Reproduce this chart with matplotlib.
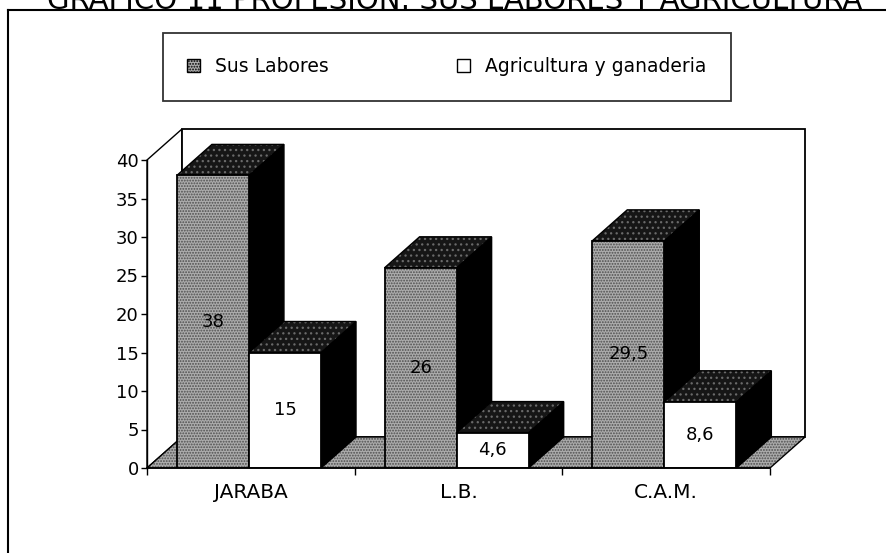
import numpy as np
import matplotlib.pyplot as plt
from matplotlib.patches import Polygon, Patch
from matplotlib.lines import Line2D

plt.rcParams['font.family'] = ['DejaVu Sans']
plt.rcParams['hatch.linewidth'] = 0.9

# donnees
categorias = ['JARABA', 'L.B.', 'C.A.M.']
sus_labores = [38, 26, 29.5]
agricultura = [15, 4.6, 8.6]
etiquetas_1 = ['38', '26', '29,5']
etiquetas_2 = ['15', '4,6', '8,6']
series = ['Sus Labores', 'Agricultura y ganaderia']
titulo = 'GRÁFICO 11 PROFESIÓN: SUS LABORES Y AGRICULTURA'

W, H = 887, 553
fig = plt.figure(figsize=(W / 100, H / 100), dpi=100)

# axes : x de 147 a 770 px, y de 468 (0) a 160 (40)
ax = fig.add_axes([147 / W, (H - 468) / H, (770 - 147) / W, (468 - 160) / H])
ax.set_xlim(0, 3)
ax.set_ylim(0, 40)
ax.patch.set_visible(False)

dx = 35 / 207.7   # profondeur 3d en unites de categorie
dy = 31 / 7.7     # profondeur 3d en unites de valeur

gris = '#acacac'
gris_pt = '#4e4e4e'
haut = '#161616'

# murs et sol
mur_g = Polygon([(0, 0), (dx, dy), (dx, 40 + dy), (0, 40)], closed=True,
                facecolor='white', edgecolor='black', lw=1, zorder=1, clip_on=False)
mur_f = Polygon([(dx, dy), (3 + dx, dy), (3 + dx, 40 + dy), (dx, 40 + dy)], closed=True,
                facecolor='white', edgecolor='black', lw=1.3, zorder=1, clip_on=False)
sol = Polygon([(0, 0), (3, 0), (3 + dx, dy), (dx, dy)], closed=True,
              facecolor=gris, edgecolor=gris_pt, hatch='......', lw=0, zorder=2, clip_on=False)
sol_b = Polygon([(0, 0), (3, 0), (3 + dx, dy), (dx, dy)], closed=True,
                fill=False, edgecolor='black', lw=1, zorder=2, clip_on=False)
for p in [mur_g, mur_f, sol, sol_b]:
    ax.add_patch(p)

w = 0.347
off = 0.144
x = np.arange(len(categorias))

def barre(x0, h, z, face, hatch, texte):
    x1 = x0 + w
    # cote
    ax.add_patch(Polygon([(x1, 0), (x1 + dx, dy), (x1 + dx, h + dy), (x1, h)], closed=True,
                         facecolor='black', edgecolor='black', lw=1, zorder=z, clip_on=False))
    # dessus (noir tachete)
    ax.add_patch(Polygon([(x0, h), (x1, h), (x1 + dx, h + dy), (x0 + dx, h + dy)], closed=True,
                         facecolor=haut, edgecolor='#6a6a6a', hatch='...', lw=0,
                         zorder=z + 1, clip_on=False))
    ax.add_patch(Polygon([(x0, h), (x1, h), (x1 + dx, h + dy), (x0 + dx, h + dy)], closed=True,
                         fill=False, edgecolor='black', lw=1, zorder=z + 1, clip_on=False))
    # face
    if hatch:
        ax.add_patch(Polygon([(x0, 0), (x1, 0), (x1, h), (x0, h)], closed=True,
                             facecolor=face, edgecolor=gris_pt, hatch=hatch, lw=0, zorder=z + 2))
    ax.add_patch(Polygon([(x0, 0), (x1, 0), (x1, h), (x0, h)], closed=True,
                         facecolor='none' if hatch else face, edgecolor='black', lw=1.3, zorder=z + 2))
    ax.text(x0 + w / 2, h / 2, texte, ha='center', va='center', fontsize=13, zorder=z + 3)

for i in range(len(categorias)):
    z = 5 + i * 10
    barre(x[i] + off, sus_labores[i], z, gris, '......', etiquetas_1[i])
    barre(x[i] + off + w, agricultura[i], z + 4, 'white', None, etiquetas_2[i])

# axes
for s in ['top', 'right']:
    ax.spines[s].set_visible(False)
ax.spines['left'].set_linewidth(1)
ax.spines['bottom'].set_linewidth(1.2)
ax.spines['left'].set_zorder(50)
ax.spines['bottom'].set_zorder(50)
ax.set_yticks(np.arange(0, 41, 5))
ax.tick_params(axis='y', labelsize=13, length=4, width=1, pad=2)
ax.set_xticks([0, 1, 2, 3])
ax.set_xticklabels([])
ax.set_xticks(x + 0.5, minor=True)
ax.set_xticklabels(categorias, minor=True)
ax.tick_params(axis='x', which='major', length=5, width=1)
ax.tick_params(axis='x', which='minor', length=0, labelsize=14.5, pad=11)

# legende
poignees = [Patch(facecolor=gris, edgecolor='black', hatch='......', lw=1),
            Patch(facecolor='white', edgecolor='black', lw=1)]
leg = fig.legend(poignees, series, loc='upper left', ncol=2,
                 bbox_to_anchor=(163 / W, 1 - 33 / H),
                 fontsize=13.5, frameon=True, fancybox=False, borderpad=1.3,
                 handlelength=0.7, handleheight=0.7, handletextpad=0.8,
                 columnspacing=6.8, borderaxespad=0)
leg.get_frame().set_edgecolor('black')
leg.get_frame().set_linewidth(1.3)

# cadre exterieur et titre coupe
fig.add_artist(Line2D([8 / W, 8 / W], [0, 1 - 10 / H], color='black', lw=1.5))
fig.add_artist(Line2D([8 / W, 1], [1 - 10 / H, 1 - 10 / H], color='black', lw=1.5))
fig.text(455 / W, 1 - 9 / H, titulo, ha='center', va='baseline', fontsize=21)

fig.savefig('out.png', dpi=100)
